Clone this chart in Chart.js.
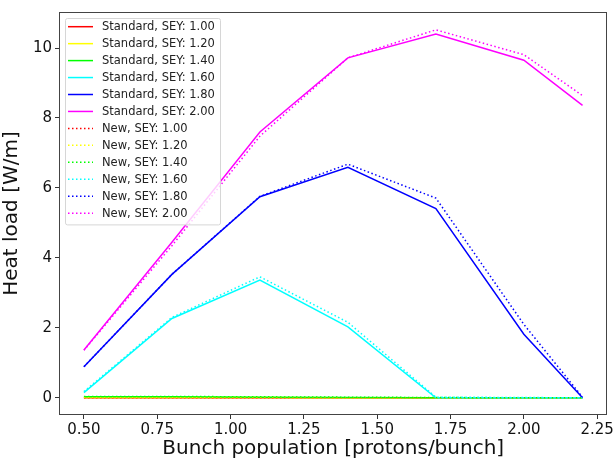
<!DOCTYPE html>
<html>
<head>
<meta charset="utf-8">
<script src="https://cdn.jsdelivr.net/npm/chart.js@4/dist/chart.umd.min.js"></script>
<style>
  html, body { margin: 0; padding: 0; background: #fff; }
  #wrap { width: 616px; height: 461px; }
</style>
</head>
<body>
<div id="wrap"><canvas id="chart" width="616" height="461"></canvas></div>
<script>
// Bunch population [protons/bunch]
const bunchPop = [0.5, 0.8, 1.1, 1.4, 1.7, 2.0, 2.2];
const seyValues = ['1.00', '1.20', '1.40', '1.60', '1.80', '2.00'];

// Heat load [W/m], standard configuration
const std100 = [0.00, 0.00, 0.00, 0.00, 0.00, 0.00, 0.00];
const std120 = [0.01, 0.01, 0.01, 0.00, 0.00, 0.00, 0.00];
const std140 = [0.03, 0.03, 0.02, 0.01, 0.00, 0.00, 0.00];
const std160 = [0.15, 2.27, 3.37, 2.03, 0.00, 0.00, 0.00];
const std180 = [0.89, 3.53, 5.75, 6.59, 5.41, 1.82, 0.00];
const std200 = [1.37, 4.45, 7.60, 9.72, 10.40, 9.65, 8.36];

// Heat load [W/m], new configuration
const new100 = [0.00, 0.00, 0.00, 0.00, 0.00, 0.00, 0.00];
const new120 = [0.01, 0.01, 0.01, 0.00, 0.00, 0.00, 0.00];
const new140 = [0.04, 0.04, 0.03, 0.02, 0.01, 0.00, 0.00];
const new160 = [0.18, 2.30, 3.46, 2.16, 0.02, 0.01, 0.00];
const new180 = [0.89, 3.53, 5.76, 6.68, 5.71, 2.10, 0.02];
const new200 = [1.36, 4.35, 7.48, 9.72, 10.52, 9.81, 8.64];

const xTicks = [0.5, 0.75, 1.0, 1.25, 1.5, 1.75, 2.0, 2.25];
const yTicks = [0, 2, 4, 6, 8, 10];

const colors = ['#ff0000', '#ffff00', '#00ff00', '#00ffff', '#0000ff', '#ff00ff'];
const stdSeries = [std100, std120, std140, std160, std180, std200];
const newSeries = [new100, new120, new140, new160, new180, new200];

const FONT = "'DejaVu Sans', sans-serif";
const DOTS = [1.5, 2.5];

const datasets = [];
stdSeries.forEach((vals, i) => {
  datasets.push({
    label: 'Standard, SEY: ' + seyValues[i],
    data: vals.map((v, k) => ({ x: bunchPop[k], y: v })),
    borderColor: colors[i],
    borderDash: [],
  });
});
newSeries.forEach((vals, i) => {
  datasets.push({
    label: 'New, SEY: ' + seyValues[i],
    data: vals.map((v, k) => ({ x: bunchPop[k], y: v })),
    borderColor: colors[i],
    borderDash: DOTS,
  });
});
// later series on top, like the plotting order
datasets.forEach((ds, i) => {
  ds.order = -i;
  ds.borderWidth = 1.5;
  ds.pointRadius = 0;
  ds.tension = 0;
  ds.fill = false;
});

// axes frame on all four sides
const frame = {
  id: 'frame',
  afterDraw(chart) {
    const a = chart.chartArea;
    const ctx = chart.ctx;
    ctx.save();
    ctx.strokeStyle = '#444';
    ctx.lineWidth = 1;
    ctx.strokeRect(Math.round(a.left) + 0.5, Math.round(a.top) + 0.5,
      Math.round(a.right - a.left) - 1, Math.round(a.bottom - a.top) - 1);
    ctx.restore();
  }
};

// boxed legend in the upper left corner of the plot
const boxLegend = {
  id: 'boxLegend',
  afterDatasetsDraw(chart) {
    const ctx = chart.ctx;
    const a = chart.chartArea;
    const x0 = a.left + 6, y0 = a.top + 6;
    const w = 155, rowH = 16.95;
    const h = datasets.length * rowH + 3;
    ctx.save();
    ctx.fillStyle = 'rgba(255,255,255,0.8)';
    ctx.strokeStyle = '#d6d6d6';
    ctx.lineWidth = 1;
    ctx.beginPath();
    ctx.roundRect(x0 + 0.5, y0 + 0.5, w, h, 2);
    ctx.fill();
    ctx.stroke();
    ctx.font = '11.5px ' + FONT;
    ctx.textBaseline = 'middle';
    ctx.fillStyle = '#222';
    chart.data.datasets.forEach((ds, i) => {
      const y = y0 + 8.7 + i * rowH;
      ctx.strokeStyle = ds.borderColor;
      ctx.lineWidth = 1.5;
      ctx.setLineDash(ds.borderDash);
      ctx.beginPath();
      ctx.moveTo(x0 + 3, y);
      ctx.lineTo(x0 + 28, y);
      ctx.stroke();
      ctx.setLineDash([]);
      ctx.fillText(ds.label, x0 + 37, y + 0.5);
    });
    ctx.restore();
  }
};

new Chart(document.getElementById('chart'), {
  type: 'line',
  data: { datasets: datasets },
  options: {
    responsive: false,
    animation: false,
    events: [],
    layout: { padding: { top: 6, right: 6, left: 0, bottom: 0 } },
    plugins: { legend: { display: false }, tooltip: { enabled: false } },
    scales: {
      x: {
        type: 'linear',
        min: 0.415,
        max: 2.285,
        afterBuildTicks: s => { s.ticks = xTicks.map(v => ({ value: v })); },
        afterFit: s => { s.height = 46; },
        border: { display: false },
        grid: { drawOnChartArea: false, drawTicks: true, tickLength: 4, tickColor: '#333', lineWidth: 1 },
        ticks: {
          font: { family: FONT, size: 15 },
          color: '#111',
          padding: 2,
          maxRotation: 0,
          autoSkip: false,
          callback: v => Number(v).toFixed(2)
        },
        title: {
          display: true,
          text: 'Bunch population [protons/bunch]',
          font: { family: FONT, size: 20 },
          color: '#111',
          padding: { top: 0, bottom: 0 }
        }
      },
      y: {
        type: 'linear',
        min: -0.49,
        max: 11.03,
        afterBuildTicks: s => { s.ticks = yTicks.map(v => ({ value: v })); },
        afterFit: s => { s.width = 59; },
        border: { display: false },
        grid: { drawOnChartArea: false, drawTicks: true, tickLength: 4, tickColor: '#333', lineWidth: 1 },
        ticks: {
          font: { family: FONT, size: 15 },
          color: '#111',
          padding: 3,
          autoSkip: false,
          callback: v => String(v)
        },
        title: {
          display: true,
          text: 'Heat load [W/m]',
          font: { family: FONT, size: 20 },
          color: '#111',
          padding: { top: 0, bottom: 0 }
        }
      }
    }
  },
  plugins: [frame, boxLegend]
});
</script>
</body>
</html>
